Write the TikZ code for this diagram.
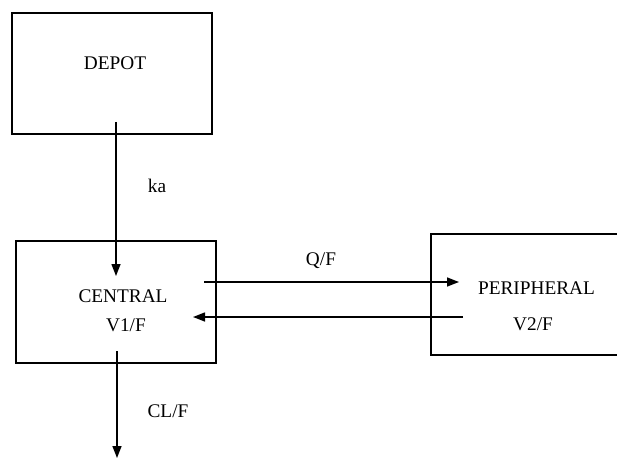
\documentclass[tikz,border=0pt]{standalone}
\usepackage{fontspec}
\setmainfont{Liberation Serif}
\usetikzlibrary{arrows.meta}
\begin{document}
\begin{tikzpicture}[x=1pt,y=-1pt,
  compbox/.style={draw,line width=1.6pt,inner sep=0pt,minimum width=#1},
  lbl/.style={inner sep=0pt,font=\fontsize{19.3}{22}\selectfont},
  flow/.style={line width=1.4pt,-{Triangle[length=12pt,width=9pt]}}]
\useasboundingbox (0,0) rectangle (617,457);
\clip (0,0) rectangle (617,457);
% boxes
\node[compbox=200pt,minimum height=121pt] (depotbox) at (112,73.5) {};
\node[compbox=200pt,minimum height=122pt] (centralbox) at (116,302) {};
\node[compbox=372pt,minimum height=121pt] (periphbox) at (617,294.5) {};
% texts
\node[lbl] (depot) at (115,63) {DEPOT};
\node[lbl] (central) at (123,296) {CENTRAL};
\node[lbl] (v1) at (126,325) {V1/F};
\node[lbl] (periph) at (536.5,288) {PERIPHERAL};
\node[lbl] (v2) at (533,324) {V2/F};
\node[lbl] (ka) at (157,186) {ka};
\node[lbl] (qf) at (321,261) {Q/F};
\node[lbl] (clf) at (168,411) {CL/F};
% connector ends
\coordinate (dA) at (116,122);
\coordinate (dB) at (116,276);
\coordinate (qA) at (204,282);
\coordinate (qB) at (459,282);
\coordinate (rA) at (463,317);
\coordinate (rB) at (193,317);
\coordinate (cA) at (117,351);
\coordinate (cB) at (117,458);
\draw[flow] (dA) -- (dB);
\draw[flow] (qA) -- (qB);
\draw[flow] (rA) -- (rB);
\draw[flow] (cA) -- (cB);
\end{tikzpicture}
\end{document}
